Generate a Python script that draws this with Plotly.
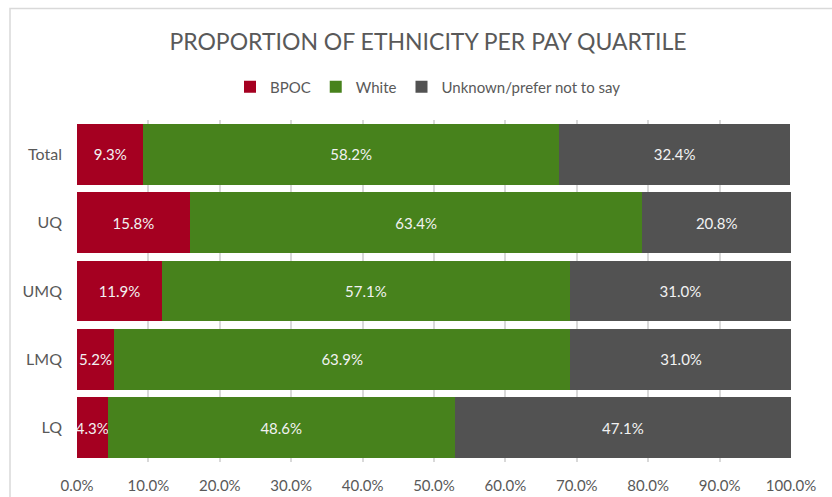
import plotly.graph_objects as go

# Pay quartiles, top to bottom as shown on the chart
quartiles = ["Total", "UQ", "UMQ", "LMQ", "LQ"]

bpoc = [9.3, 15.8, 11.9, 5.2, 4.3]
white = [58.2, 63.4, 57.1, 63.9, 48.6]
unknown = [32.4, 20.8, 31.0, 31.0, 47.1]

x_ticks = [0, 10, 20, 30, 40, 50, 60, 70, 80, 90, 100]

series = [
    ("BPOC", bpoc, "#A50021"),
    ("White", white, "#47821C"),
    ("Unknown/prefer not to say", unknown, "#525252"),
]

FONT = "Lato, 'Open Sans', sans-serif"
GREY_TEXT = "#595959"
GRID = "#D9D9D9"

W, H = 832, 497
M_L, M_R, M_T, M_B = 77, 41, 120, 35

fig = go.Figure()
for name, vals, color in series:
    fig.add_trace(go.Bar(
        y=quartiles,
        x=vals,
        name=name,
        orientation="h",
        marker=dict(color=color, line=dict(width=0)),
        text=[f"{v:.1f}%" for v in vals],
        textposition="inside",
        insidetextanchor="middle",
        textangle=0,
        constraintext="none",
        textfont=dict(family=FONT, size=15, color="#F2F2F2"),
        hoverinfo="skip",
    ))

plot_w = W - M_L - M_R
plot_h = H - M_T - M_B

# Outer chart frame (left and top edges fall inside the page)
fig.add_shape(
    type="rect", xref="paper", yref="paper",
    x0=(10 - M_L) / plot_w, x1=(W + 20 - M_L) / plot_w,
    y0=-(H + 20 - M_T - plot_h) / plot_h, y1=1 + (M_T - 8.5) / plot_h,
    line=dict(color=GRID, width=1.5), fillcolor="rgba(0,0,0,0)", layer="below",
)

fig.update_layout(
    width=W, height=H,
    margin=dict(l=M_L, r=M_R, t=M_T, b=M_B, pad=0, autoexpand=False),
    paper_bgcolor="white", plot_bgcolor="white",
    barmode="stack",
    bargap=0.11,
    font=dict(family=FONT, color=GREY_TEXT),
    title=dict(
        text="PROPORTION OF ETHNICITY PER PAY QUARTILE",
        x=428 / W, xanchor="center",
        y=1 - 42 / H, yanchor="middle",
        font=dict(family=FONT, size=23, color=GREY_TEXT),
    ),
    legend=dict(
        orientation="h",
        x=(428 - M_L) / plot_w, xanchor="center",
        y=1 + (M_T - 87) / plot_h, yanchor="middle",
        font=dict(family=FONT, size=15, color=GREY_TEXT),
        itemwidth=30,
        traceorder="normal",
    ),
    xaxis=dict(
        range=[0, 100],
        tickvals=x_ticks,
        ticktext=[f"{t:.1f}%" for t in x_ticks],
        showgrid=True, gridcolor=GRID, gridwidth=1.5,
        zeroline=False,
        showline=False,
        ticks="",
        ticklabelstandoff=13,
        automargin=False,
        tickfont=dict(family=FONT, size=15, color=GREY_TEXT),
        fixedrange=True,
    ),
    yaxis=dict(
        categoryorder="array",
        categoryarray=quartiles[::-1],
        showgrid=False, zeroline=False, showline=False,
        ticks="",
        ticklabelstandoff=14,
        automargin=False,
        tickfont=dict(family=FONT, size=16, color=GREY_TEXT),
        fixedrange=True,
    ),
    showlegend=True,
)

fig.write_html("out.html")
